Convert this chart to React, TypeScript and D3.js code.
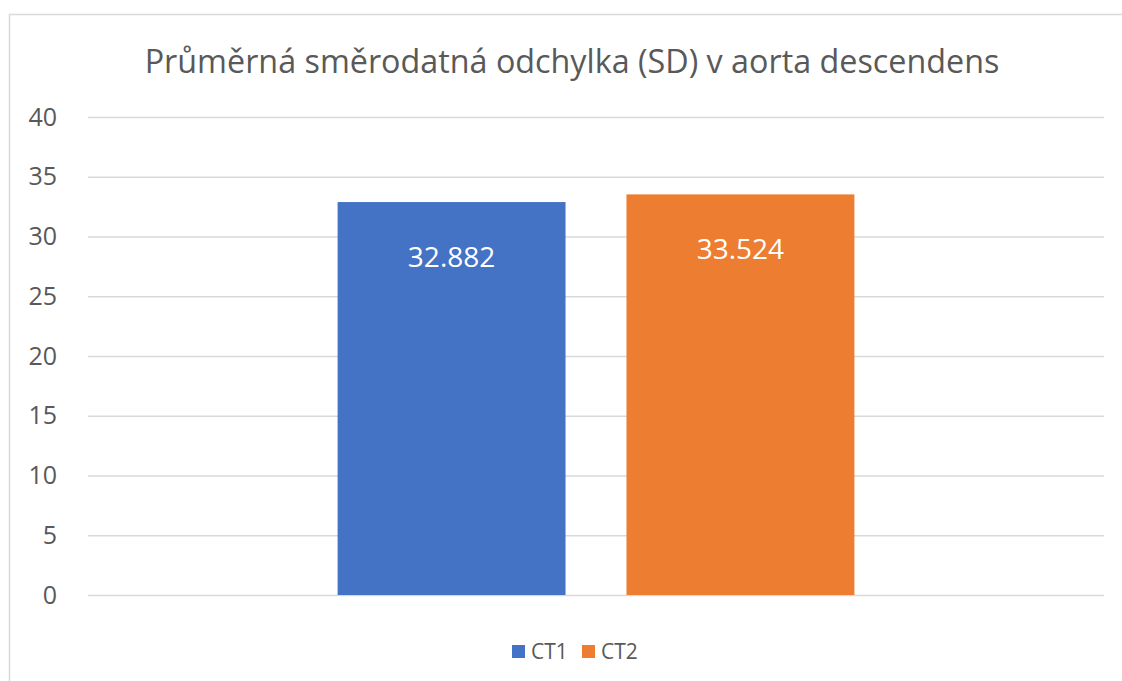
import { useEffect, useRef } from "react";
import * as d3 from "d3";

const title = "Průměrná směrodatná odchylka (SD) v aorta descendens";
const categories = [""];
const seriesNames = ["CT1", "CT2"];
const seriesValues = [32.882, 33.524];
const seriesColors = ["#4472C4", "#ED7D31"];
const yTicks = [0, 5, 10, 15, 20, 25, 30, 35, 40];

export default function App() {
  const ref = useRef<SVGSVGElement | null>(null);

  useEffect(() => {
    if (!ref.current) return;

    const width = 1122;
    const height = 681;
    const margin = { top: 117, right: 18, bottom: 86, left: 88 };
    const font = "'Open Sans', sans-serif";

    const svg = d3.select(ref.current).attr("viewBox", `0 0 ${width} ${height}`);
    svg.selectAll("*").remove();

    svg.append("rect").attr("width", width).attr("height", height).attr("fill", "white");

    // chart area border (runs off right and bottom edge)
    svg.append("rect")
      .attr("x", 9.5)
      .attr("y", 14.5)
      .attr("width", width + 20)
      .attr("height", height + 20)
      .attr("fill", "none")
      .attr("stroke", "#d9d9d9")
      .attr("stroke-width", 1.5);

    /* ---------------- SCALES ---------------- */

    const x0 = d3.scaleBand()
      .domain(categories)
      .range([margin.left, width - margin.right])
      .paddingInner(0)
      .paddingOuter(0.483);

    const x1 = d3.scaleBand()
      .domain(seriesNames)
      .range([0, x0.bandwidth()])
      .paddingInner(0.211);

    const y = d3.scaleLinear()
      .domain([0, 40])
      .range([height - margin.bottom, margin.top]);

    /* ---------------- GRID + Y AXIS ---------------- */

    const gy = svg.append("g")
      .attr("transform", `translate(${margin.left},0)`)
      .call(
        d3.axisLeft(y)
          .tickValues(yTicks)
          .tickFormat(d => `${d}`)
          .tickSize(-(width - margin.left - margin.right))
          .tickPadding(31)
      );
    gy.select(".domain").remove();
    gy.selectAll(".tick line").attr("stroke", "#d9d9d9").attr("stroke-width", 1.5);
    gy.selectAll(".tick text")
      .attr("fill", "#595959")
      .style("font-family", font)
      .style("font-size", "25px");

    /* ---------------- BARS ---------------- */

    const bars = seriesNames.map((name, i) => ({ name, value: seriesValues[i], color: seriesColors[i] }));

    const g = svg.append("g").attr("transform", `translate(${x0(categories[0])},0)`);

    g.selectAll(".bar")
      .data(bars)
      .enter()
      .append("rect")
      .attr("x", d => x1(d.name)!)
      .attr("y", d => y(d.value))
      .attr("width", x1.bandwidth())
      .attr("height", d => y(0) - y(d.value))
      .attr("fill", d => d.color);

    g.selectAll(".label")
      .data(bars)
      .enter()
      .append("text")
      .attr("x", d => x1(d.name)! + x1.bandwidth() / 2)
      .attr("y", d => y(d.value) + 65)
      .attr("text-anchor", "middle")
      .attr("fill", "white")
      .style("font-family", font)
      .style("font-size", "28px")
      .text(d => d.value.toFixed(3));

    /* ---------------- TITLE ---------------- */

    svg.append("text")
      .attr("x", 572)
      .attr("y", 73)
      .attr("text-anchor", "middle")
      .attr("fill", "#595959")
      .style("font-family", font)
      .style("font-size", "32.3px")
      .text(title);

    /* ---------------- LEGEND ---------------- */

    const legendX = [512, 582];
    const legend = svg.selectAll(".legend")
      .data(bars)
      .enter()
      .append("g")
      .attr("transform", (_, i) => `translate(${legendX[i]},645)`);

    legend.append("rect")
      .attr("width", 13)
      .attr("height", 13)
      .attr("fill", d => d.color);

    legend.append("text")
      .attr("x", 19)
      .attr("y", 14)
      .attr("fill", "#595959")
      .style("font-family", font)
      .style("font-size", "21px")
      .text(d => d.name);
  }, []);

  return (
    <svg
      ref={ref}
      width={1122}
      height={681}
      style={{ position: "fixed", left: 0, top: 0, display: "block" }}
    />
  );
}
